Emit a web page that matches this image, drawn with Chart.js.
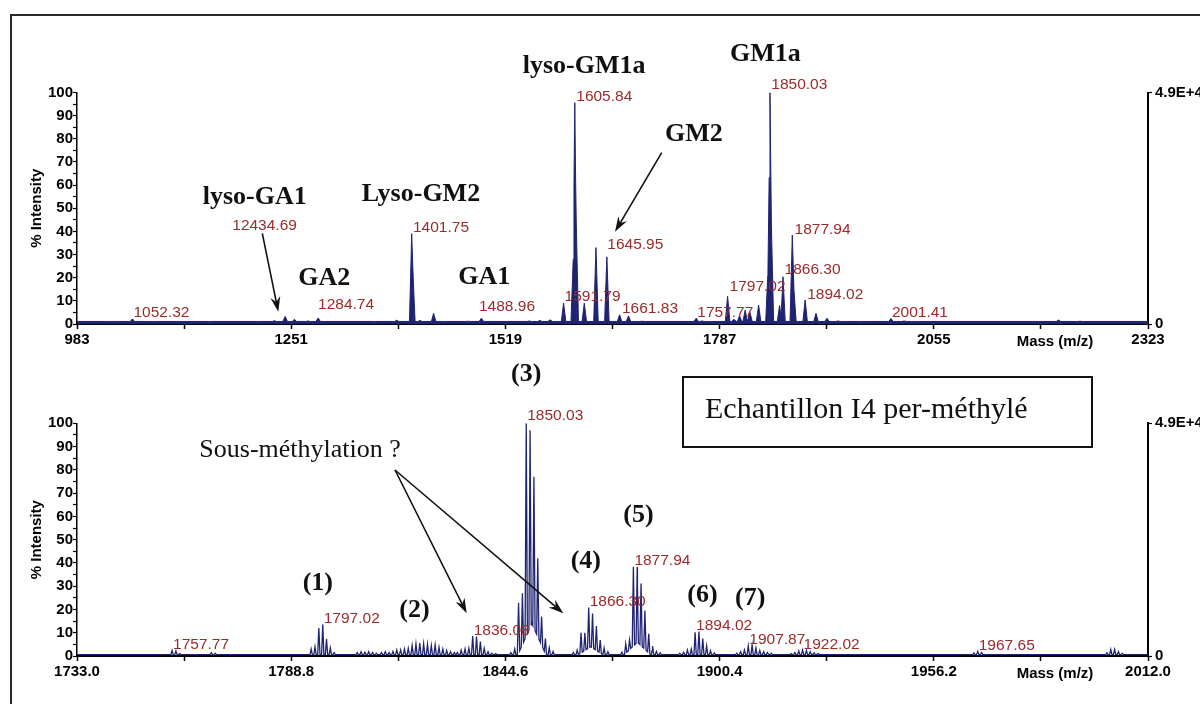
<!DOCTYPE html>
<html lang="fr">
<head>
<meta charset="utf-8">
<title>Echantillon I4 per-méthylé</title>
<script src="https://cdn.jsdelivr.net/npm/chart.js@4.4.1/dist/chart.umd.min.js"></script>
<style>
  body { margin: 0; width: 1200px; height: 704px; overflow: hidden; position: relative; background: #fff; }
  #frame { position: absolute; left: 10px; top: 14px; width: 1400px; height: 900px; border: 2px solid #2a2a2a; }
  canvas { position: absolute; left: 0; }
  #top-spectrum { top: 0; }
  #zoom-spectrum { top: 352px; }
</style>
</head>
<body>
<div id="frame"></div>
<canvas id="top-spectrum" width="1200" height="352"></canvas>
<canvas id="zoom-spectrum" width="1200" height="352"></canvas>
<script>
// Full range spectrum (m/z 983 - 2323), intensities in %
const topMz = [1028.5, 1052.32, 1077, 1150, 1210, 1230, 1243.47, 1255, 1272, 1284.74,
  1354, 1383, 1401.75, 1403.2, 1412, 1429.2, 1443, 1472, 1488.96,
  1549, 1562, 1575, 1591.79, 1603.84, 1605.84, 1607.6, 1617.7, 1632.3, 1645.95, 1661.83, 1673, 1690,
  1757.77, 1765, 1797.02, 1805, 1812, 1819, 1825, 1835.8, 1847.5, 1850.03, 1851.8, 1862, 1866.30,
  1877.94, 1880, 1894.02, 1907.6, 1921.3, 1935, 1965, 2001.41, 2018, 2030, 2211, 2238];
const topInt = [1.0, 2.2, 1.0, 0.9, 1.1, 1.4, 3.3, 2.0, 1.3, 2.6,
  1.0, 1.6, 39, 24, 1.5, 4.6, 1.0, 1.2, 2.5,
  1.3, 1.5, 1.8, 9, 28, 95.6, 45, 9, 33, 29, 4, 3.5, 1.2,
  2.5, 1.3, 12, 2, 3.5, 6, 5, 8.2, 23, 100, 43, 8, 20.4,
  38.4, 15, 10.4, 4.6, 2.5, 1.3, 1.0, 2.4, 1.3, 1.0, 1.7, 1.2];

// Peak labels of the full spectrum (left edge in m/z, baseline in %)
const topLabelText = ['1052.32', '12434.69', '1284.74', '1401.75', '1488.96', '1591.79', '1605.84', '1645.95',
  '1661.83', '1757.77', '1797.02', '1850.03', '1866.30', '1877.94', '1894.02', '2001.41'];
const topLabelX = [1052.3, 1176, 1283.3, 1402.1, 1484.7, 1591.8, 1606.4, 1645.2,
  1663.6, 1757.8, 1798.2, 1850.4, 1867.0, 1879.5, 1895.4, 2001.4];
const topLabelY = [2.9, 40.4, 6.3, 39.7, 5.5, 9.8, 96.2, 32.5,
  4.8, 2.9, 14.2, 101.6, 21.7, 38.7, 10.9, 2.9];

const topTicks = [983, 1117, 1251, 1385, 1519, 1653, 1787, 1921, 2055, 2189, 2323];
const topTickLabels = ['983', '', '1251', '', '1519', '', '1787', '', '2055', '', '2323'];

// Zoomed spectrum (m/z 1733 - 2012), isotopic clusters
const lowMz = [
  1757.77, 1758.77, 1759.77, 1768.0, 1769.0,
  1794.0, 1795.0, 1796.0, 1797.02, 1798.0, 1799.0, 1800.0,
  1806, 1807, 1808, 1809, 1810, 1811,
  1812.3, 1813.3, 1814.3, 1815.3, 1816.3, 1817.3, 1818.3, 1819.3, 1820.3, 1821.3,
  1822.3, 1823.3, 1824.3, 1825.3, 1826.3, 1827.3, 1828.3, 1829.3, 1830.3, 1831.3,
  1832.08, 1833.08, 1834.08, 1835.08, 1836.08, 1837.08, 1838.08, 1839.08, 1840.08, 1841.08, 1842.08,
  1846.03, 1847.03, 1848.03, 1849.03, 1850.03, 1851.03, 1852.03, 1853.03, 1854.03, 1855.03, 1856.03, 1857.03,
  1862.3, 1863.3, 1864.3, 1865.3, 1866.30, 1867.3, 1868.3, 1869.3, 1870.3, 1871.3,
  1874.94, 1875.94, 1876.94, 1877.94, 1878.94, 1879.94, 1880.94, 1881.94, 1882.94, 1883.94, 1884.94,
  1890.02, 1891.02, 1892.02, 1893.02, 1894.02, 1895.02, 1896.02, 1897.02, 1898.02, 1899.02,
  1904.87, 1905.87, 1906.87, 1907.87, 1908.87, 1909.87, 1910.87, 1911.87, 1912.87, 1913.87,
  1919.02, 1920.02, 1921.02, 1922.02, 1923.02, 1924.02, 1925.02, 1926.02,
  1966.65, 1967.65, 1968.65,
  2001.3, 2002.3, 2003.3, 2004.3, 2005.3];
const lowInt = [
  2.4, 2.2, 1.0, 1.4, 1.2,
  3.0, 4.0, 12.0, 13.5, 7.3, 3.5, 1.5,
  1.5, 1.8, 1.6, 1.8, 1.5, 1.2,
  1.5, 1.8, 1.5, 2.0, 2.6, 2.6, 3.0, 3.3, 4.5, 5.2,
  5.6, 5.2, 5.0, 4.5, 4.8, 3.8, 3.0, 2.4, 1.8, 1.5,
  1.5, 2.5, 3.0, 3.3, 8.6, 8.4, 6.2, 3.3, 1.8, 1.2, 1.0,
  1.5, 3.0, 22.9, 27.0, 100, 97, 77, 42, 17, 7.5, 3.5, 2.0,
  1.5, 2.5, 10, 10, 20.8, 18.3, 12.9, 6.9, 3.4, 1.8,
  1.6, 5.2, 6.9, 38.4, 38.2, 31.2, 19.5, 9.5, 4.3, 2.0, 1.3,
  1.2, 1.6, 2.6, 3.0, 10.2, 10.5, 7.5, 4.3, 2.3, 1.3,
  1.2, 1.8, 2.6, 4.3, 4.7, 3.4, 2.4, 1.8, 1.5, 1.2,
  1.0, 1.5, 2.2, 2.6, 2.4, 1.8, 1.4, 1.1,
  1.3, 2.0, 1.5,
  1.4, 2.8, 2.8, 1.8, 1.2];
// unresolved floor under the larger clusters
const lowHumpMz = [1851.5, 1866.8, 1879.0];
const lowHumpInt = [14, 4, 6];

const lowLabelText = ['1757.77', '1797.02', '1836.08', '1850.03', '1866.30', '1877.94', '1894.02', '1907.87', '1922.02', '1967.65'];
const lowLabelY = [3.1, 14.1, 9.1, 101.5, 21.7, 39.2, 11.0, 5.2, 3.1, 2.4];

const lowTicks = [1733.0, 1760.9, 1788.8, 1816.7, 1844.6, 1872.5, 1900.4, 1928.3, 1956.2, 1984.1, 2012.0];
const lowTickLabels = ['1733.0', '', '1788.8', '', '1844.6', '', '1900.4', '', '1956.2', '', '2012.0'];

const yTicks = [0, 5, 10, 15, 20, 25, 30, 35, 40, 45, 50, 55, 60, 65, 70, 75, 80, 85, 90, 95, 100];
const rightTicks = [0, 100];
const rightTickLabels = ['0', '4.9E+4'];

const navy = '#1f2373';
const labelRed = '#9b2a2a';
const sansFamily = '"Liberation Sans", Arial, sans-serif';
const serifFamily = '"Liberation Serif", "Times New Roman", serif';

// Turn a peak list into a profile line: each peak is a narrow triangle on the baseline
function buildProfile(mz, inten, half, base, humpMz, humpInt, humpHalf, lo, hi) {
    const xs = [lo, hi];
    mz.forEach(m => xs.push(m - half, m, m + half));
    humpMz.forEach(m => xs.push(m - humpHalf, m, m + humpHalf));
    const sorted = [...new Set(xs)].filter(x => x >= lo && x <= hi).sort((a, b) => a - b);
    return sorted.map(x => {
        let y = base;
        mz.forEach((m, i) => { y = Math.max(y, inten[i] * (1 - Math.abs(x - m) / half)); });
        humpMz.forEach((m, i) => { y = Math.max(y, humpInt[i] * (1 - Math.abs(x - m) / humpHalf)); });
        return { x: x, y: y };
    });
}

// Red m/z labels above the peaks
function peakLabelPlugin(texts, xs, ys) {
    return {
        id: 'peakLabels',
        afterDatasetsDraw(chart) {
            const ctx = chart.ctx;
            const sx = chart.scales.x;
            const sy = chart.scales.y;
            ctx.save();
            ctx.font = '15.5px ' + sansFamily;
            ctx.fillStyle = labelRed;
            ctx.textAlign = 'left';
            ctx.textBaseline = 'alphabetic';
            texts.forEach((t, i) => {
                ctx.fillText(t, sx.getPixelForValue(xs[i]) + 1, sy.getPixelForValue(ys[i]));
            });
            ctx.restore();
        }
    };
}

function drawArrow(ctx, x1, y1, x2, y2) {
    const ang = Math.atan2(y2 - y1, x2 - x1);
    const len = 15, wid = 5;
    ctx.beginPath();
    ctx.moveTo(x1, y1);
    ctx.lineTo(x2 - Math.cos(ang) * 6, y2 - Math.sin(ang) * 6);
    ctx.stroke();
    const bx = x2 - Math.cos(ang) * len, by = y2 - Math.sin(ang) * len;
    const nx = -Math.sin(ang), ny = Math.cos(ang);
    ctx.beginPath();
    ctx.moveTo(x2, y2);
    ctx.lineTo(bx + nx * wid, by + ny * wid);
    ctx.lineTo(x2 - Math.cos(ang) * 10, y2 - Math.sin(ang) * 10);
    ctx.lineTo(bx - nx * wid, by - ny * wid);
    ctx.closePath();
    ctx.fill();
}

// Black annotations: compound names, cluster numbers, arrows, box
function notesPlugin(notes, arrows, box) {
    return {
        id: 'notes',
        afterDraw(chart) {
            const ctx = chart.ctx;
            const area = chart.chartArea;
            ctx.save();
            // axis title placed inside the x tick row
            ctx.font = 'bold 15px ' + sansFamily;
            ctx.fillStyle = '#000';
            ctx.textAlign = 'center';
            ctx.textBaseline = 'middle';
            ctx.fillText('Mass (m/z)', area.right - 93, area.bottom + 18);

            ctx.textAlign = 'left';
            ctx.textBaseline = 'alphabetic';
            ctx.fillStyle = '#111';
            notes.forEach(n => {
                ctx.font = n.font;
                ctx.fillText(n.text, n.x, n.y);
            });
            ctx.strokeStyle = '#111';
            ctx.lineWidth = 1.6;
            arrows.forEach(a => drawArrow(ctx, a[0], a[1], a[2], a[3]));
            if (box) {
                ctx.lineWidth = 2;
                ctx.strokeRect(box.x, box.y, box.w, box.h);
                ctx.font = box.font;
                ctx.fillText(box.text, box.tx, box.ty);
            }
            ctx.restore();
        }
    };
}

// Function to build one spectrum panel
function drawSpectrum(canvasId, cfg) {
    const tickFont = { family: sansFamily, weight: 'bold', size: 15 };
    return new Chart(document.getElementById(canvasId), {
        type: 'line',
        data: {
            datasets: [{
                data: cfg.points,
                borderColor: navy,
                backgroundColor: navy,
                borderWidth: cfg.lineWidth,
                fill: cfg.fill ? 'origin' : false,
                pointRadius: 0,
                tension: 0,
                yAxisID: 'y'
            }]
        },
        options: {
            responsive: false,
            animation: false,
            layout: { padding: { top: cfg.padTop, bottom: cfg.padBottom, left: 0, right: 0 } },
            plugins: { legend: { display: false }, tooltip: { enabled: false } },
            scales: {
                x: {
                    type: 'linear',
                    min: cfg.ticks[0],
                    max: cfg.ticks[cfg.ticks.length - 1],
                    afterBuildTicks: s => { s.ticks = cfg.ticks.map(v => ({ value: v })); },
                    afterFit: s => { s.height = 28; },
                    ticks: {
                        autoSkip: false, maxRotation: 0, padding: 2, color: '#000', font: tickFont,
                        callback: (v, i) => cfg.tickLabels[i]
                    },
                    grid: { drawOnChartArea: false, tickLength: 5, tickColor: '#000', tickWidth: 1.5 },
                    border: { color: '#000', width: 2 }
                },
                y: {
                    min: 0, max: 100, position: 'left',
                    afterBuildTicks: s => { s.ticks = yTicks.map(v => ({ value: v })); },
                    afterFit: s => { s.width = 77; },
                    ticks: {
                        autoSkip: false, padding: 0, color: '#000', font: tickFont,
                        callback: v => (v % 10 === 0 ? String(v) : '')
                    },
                    grid: { drawOnChartArea: false, tickLength: 4, tickColor: '#000', tickWidth: 1.2 },
                    border: { color: '#000', width: 1.5 },
                    title: {
                        display: true, text: '% Intensity', color: '#000',
                        font: { family: sansFamily, weight: 'bold', size: 15 },
                        padding: { top: 28, bottom: 0 }
                    }
                },
                y2: {
                    min: 0, max: 100, position: 'right',
                    afterBuildTicks: s => { s.ticks = rightTicks.map(v => ({ value: v })); },
                    afterFit: s => { s.width = 52; },
                    ticks: {
                        autoSkip: false, padding: 3, color: '#000', font: tickFont,
                        callback: (v, i) => rightTickLabels[i]
                    },
                    grid: { drawOnChartArea: false, tickLength: 4, tickColor: '#000', tickWidth: 1.2 },
                    border: { color: '#000', width: 2 }
                }
            }
        },
        plugins: [cfg.labelPlugin, cfg.notesPlugin]
    });
}

const boldSerif = 'bold 26px ' + serifFamily;
const plainSerif = '26px ' + serifFamily;

drawSpectrum('top-spectrum', {
    points: buildProfile(topMz, topInt, 2.8, 1.1, [], [], 1, 983, 2323),
    fill: true,
    lineWidth: 1,
    padTop: 92.5,
    padBottom: 0,
    ticks: topTicks,
    tickLabels: topTickLabels,
    labelPlugin: peakLabelPlugin(topLabelText, topLabelX, topLabelY),
    notesPlugin: notesPlugin([
        { text: 'lyso-GA1', x: 202.7, y: 204, font: boldSerif },
        { text: 'GA2', x: 298.3, y: 285, font: boldSerif },
        { text: 'Lyso-GM2', x: 361.7, y: 201, font: boldSerif },
        { text: 'GA1', x: 458.3, y: 284, font: boldSerif },
        { text: 'lyso-GM1a', x: 522.7, y: 73.3, font: boldSerif },
        { text: 'GM1a', x: 730, y: 60.7, font: boldSerif },
        { text: 'GM2', x: 665, y: 140.7, font: boldSerif }
    ], [
        [262.3, 233.3, 278.3, 311.7],
        [661.7, 152.7, 615, 231.7]
    ], null)
});

drawSpectrum('zoom-spectrum', {
    points: buildProfile(lowMz, lowInt, 0.3, 0.6, lowHumpMz, lowHumpInt, 3.8, 1733, 2012),
    fill: false,
    lineWidth: 1.3,
    padTop: 71.3,
    padBottom: 20,
    ticks: lowTicks,
    tickLabels: lowTickLabels,
    labelPlugin: peakLabelPlugin(lowLabelText, lowLabelText.map(Number), lowLabelY),
    notesPlugin: notesPlugin([
        { text: '(3)', x: 511, y: 29, font: boldSerif },
        { text: '(1)', x: 302.7, y: 238, font: boldSerif },
        { text: '(2)', x: 399.3, y: 264.7, font: boldSerif },
        { text: '(4)', x: 570.7, y: 216.3, font: boldSerif },
        { text: '(5)', x: 623.3, y: 169.7, font: boldSerif },
        { text: '(6)', x: 687.3, y: 249.7, font: boldSerif },
        { text: '(7)', x: 735, y: 253, font: boldSerif },
        { text: 'Sous-méthylation ?', x: 199.3, y: 104.7, font: plainSerif }
    ], [
        [395, 118, 466.7, 261.3],
        [395, 118, 563.3, 261.3]
    ], {
        x: 683, y: 25, w: 409, h: 70,
        text: 'Echantillon I4 per-méthylé', tx: 705, ty: 65.7,
        font: '30px ' + serifFamily
    })
});
</script>
</body>
</html>
